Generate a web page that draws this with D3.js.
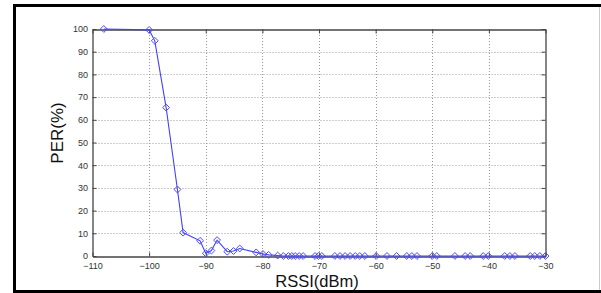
<!DOCTYPE html>
<html>
<head>
<meta charset="utf-8">
<script src="https://cdn.jsdelivr.net/npm/d3@7/dist/d3.min.js"></script>
<style>
  body { margin: 0; background: #fff; }
  text { font-family: "Liberation Sans", Arial, sans-serif; }
</style>
</head>
<body>
<div id="chart"></div>
<script>
// RSSI (dBm) vs PER (%)
const rssi = [-108, -100, -99, -97, -95, -94, -91, -90, -89, -88, -86.2, -85.1, -84, -81.1, -79.9, -78.9,
  -77.3, -76.3, -75.4, -74.8, -74.2, -73.5, -72.8, -70.7, -70.1, -69.5, -67.2, -66.3, -65.4, -64.5,
  -63.6, -62.8, -61.9, -59.9, -58, -56.3, -54.5, -53.6, -52.7, -50, -49.2, -46, -44.2, -43.3, -41,
  -40.1, -37.2, -36.3, -35.4, -32.7, -31.9, -31, -30];
const per = [100, 99.6, 94.8, 65.4, 29.3, 10.3, 6.7, 1.2, 2.4, 7, 1.9, 2.2, 3.3, 1.6, 0.9, 0.5,
  0.2, 0, 0, 0, 0, 0, 0, 0, 0, 0, 0, 0, 0, 0,
  0, 0, 0, 0, 0, 0, 0, 0, 0, 0, 0, 0, 0, 0, 0,
  0, 0, 0, 0, 0, 0, 0, 0];
const xTicks = [-110, -100, -90, -80, -70, -60, -50, -40, -30];
const yTicks = [0, 10, 20, 30, 40, 50, 60, 70, 80, 90, 100];

const W = 601, H = 293;
const plot = { left: 92.5, right: 545.5, top: 29, bottom: 256 };
const tickFont = "'Liberation Sans Narrow', 'Arial Narrow', 'Liberation Sans', sans-serif";

const svg = d3.select("#chart").append("svg")
  .attr("width", W).attr("height", H);

// outer frame
svg.append("rect")
  .attr("x", 14.5).attr("y", 5.5).attr("width", 600).attr("height", 286)
  .attr("fill", "none").attr("stroke", "#000").attr("stroke-width", 3);
svg.append("line")
  .attr("x1", 599.5).attr("x2", 599.5).attr("y1", 7).attr("y2", 290)
  .attr("stroke", "#ccc");

const x = d3.scaleLinear().domain([-110, -30]).range([plot.left, plot.right]);
const y = d3.scaleLinear().domain([0, 100]).range([plot.bottom, plot.top]);

// grid
const grid = svg.append("g").attr("stroke", "#9a9a9a").attr("stroke-dasharray", "1,2").attr("stroke-width", 1);
grid.selectAll(".gx").data(xTicks.slice(1, -1)).enter().append("line")
  .attr("x1", d => Math.round(x(d)) + 0.5).attr("x2", d => Math.round(x(d)) + 0.5)
  .attr("y1", plot.top).attr("y2", plot.bottom);
grid.selectAll(".gy").data(yTicks.slice(1, -1)).enter().append("line")
  .attr("y1", d => Math.round(y(d)) + 0.5).attr("y2", d => Math.round(y(d)) + 0.5)
  .attr("x1", plot.left).attr("x2", plot.right);

// axes (box with inward ticks)
const axisColor = "#444";
const gb = svg.append("g").attr("transform", `translate(0,${plot.bottom + 0.5})`)
  .call(d3.axisBottom(x).tickValues(xTicks).tickSizeInner(-4).tickSizeOuter(0).tickPadding(6.3));
const gl = svg.append("g").attr("transform", `translate(${plot.left},0)`)
  .call(d3.axisLeft(y).tickValues(yTicks).tickSizeInner(-4).tickSizeOuter(0).tickPadding(4.5));
const gt = svg.append("g").attr("transform", `translate(0,${plot.top + 0.5})`)
  .call(d3.axisTop(x).tickValues(xTicks).tickSizeInner(-4).tickSizeOuter(0).tickFormat(""));
const gr = svg.append("g").attr("transform", `translate(${plot.right},0)`)
  .call(d3.axisRight(y).tickValues(yTicks).tickSizeInner(-4).tickSizeOuter(0).tickFormat(""));
[gb, gl, gt, gr].forEach(g => {
  g.selectAll("path").attr("stroke", axisColor).attr("stroke-width", 1.3);
  g.selectAll("line").attr("stroke", axisColor);
  g.selectAll("text").attr("fill", "#333").style("font-size", "9px")
    .style("font-family", tickFont);
});

// data line + diamond markers
const pts = rssi.map((r, i) => ({ x: r, y: per[i] }));
svg.append("path").datum(pts)
  .attr("fill", "none").attr("stroke", "#4040ff").attr("stroke-width", 1.1)
  .attr("d", d3.line().x(d => x(d.x)).y(d => y(d.y)));
const sym = d3.symbol().type(d3.symbolDiamond2).size(30);
svg.selectAll(".mk").data(pts).enter().append("path")
  .attr("transform", d => `translate(${x(d.x)},${y(d.y)})`)
  .attr("d", sym)
  .attr("fill", "none").attr("stroke", "#4a4aff").attr("stroke-width", 1);

// axis titles
svg.append("text")
  .attr("x", 317).attr("y", 286.5)
  .attr("text-anchor", "middle").style("font-size", "16.5px").attr("fill", "#111")
  .text("RSSI(dBm)");
svg.append("text")
  .attr("transform", "translate(63,133) rotate(-90)")
  .attr("text-anchor", "middle").style("font-size", "17px").attr("fill", "#111")
  .text("PER(%)");
</script>
</body>
</html>
